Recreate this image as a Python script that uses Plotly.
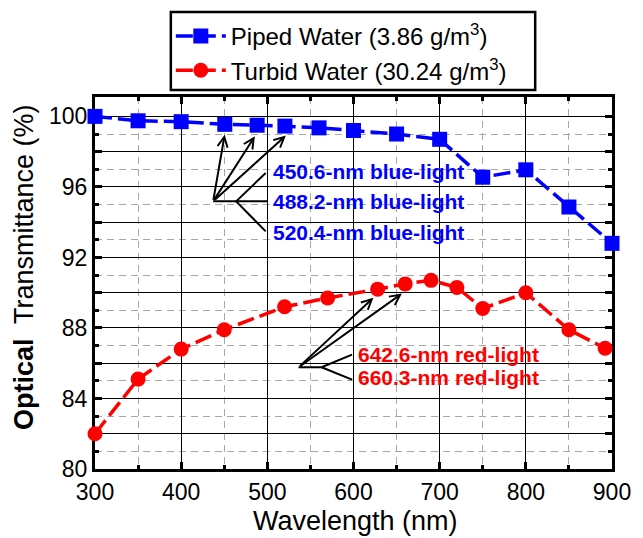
import plotly.graph_objects as go

# ---- data ----
piped_x = [300, 350, 400, 450.6, 488.2, 520.4, 560, 600, 650, 700, 750, 800, 850, 900]
piped_y = [100.0, 99.75, 99.7, 99.55, 99.5, 99.45, 99.35, 99.2, 99.0, 98.7, 96.55, 96.97, 94.86, 92.8]
turbid_x = [300, 350, 400, 450, 520, 570, 628, 660, 690, 720, 750, 800, 850, 892]
turbid_y = [82.0, 85.1, 86.8, 87.9, 89.2, 89.7, 90.2, 90.5, 90.7, 90.3, 89.1, 90.0, 87.9, 86.85]

x_tick_vals = [300, 400, 500, 600, 700, 800, 900]
x_tick_text = ["300", "400", "500", "600", "700", "800", "900"]
x_minor_vals = [350, 450, 550, 650, 750, 850]
y_tick_vals = [80, 82, 84, 86, 88, 90, 92, 94, 96, 98, 100]
y_tick_text = ["80", "", "84", "", "88", "", "92", "", "96", "", "100"]
y_minor_vals = [81, 83, 85, 87, 89, 91, 93, 95, 97, 99]

blue_labels = ["450.6-nm blue-light", "488.2-nm blue-light", "520.4-nm blue-light"]
red_labels = ["642.6-nm red-light", "660.3-nm red-light"]

FONT = "Liberation Sans, Arial, sans-serif"
BLUE = "#0000FF"
RED = "#FF0000"

# plot-area geometry (px)
L, R, T, B = 95, 23, 97, 69
W, H = 643, 538
PW, PH = W - L - R, H - T - B

def px_x(px):
    return (px - L) / PW

def px_y(py):
    return (H - B - py) / PH

fig = go.Figure()
fig.add_trace(go.Scatter(
    x=piped_x, y=piped_y, mode="lines+markers",
    name="Piped Water (3.86 g/m<sup>3</sup>)",
    line=dict(color=BLUE, width=3.5, dash="17px,6px"),
    marker=dict(symbol="square", size=15, color=BLUE),
    cliponaxis=False,
))
fig.add_trace(go.Scatter(
    x=turbid_x, y=turbid_y, mode="lines+markers",
    name="Turbid Water (30.24 g/m<sup>3</sup>)",
    line=dict(color=RED, width=3.5, dash="17px,6px"),
    marker=dict(symbol="circle", size=15, color=RED),
    cliponaxis=False,
))

# ---- annotation arrows & leader lines ----
blue_origin = (437.1, 95.18)
blue_tips = [(450.5, 98.96), (485.5, 98.87), (521.5, 98.91)]
red_origin = (536.2, 85.77)
red_tips = [(623.1, 89.71), (656.2, 89.95)]

annotations = []
for (tx, ty) in blue_tips:
    annotations.append(dict(x=tx, y=ty, ax=blue_origin[0], ay=blue_origin[1],
                            xref="x", yref="y", axref="x", ayref="y", text="",
                            showarrow=True, arrowhead=5, arrowsize=1.0, arrowwidth=2,
                            arrowcolor="black", standoff=0))
for (tx, ty) in red_tips:
    annotations.append(dict(x=tx, y=ty, ax=red_origin[0], ay=red_origin[1],
                            xref="x", yref="y", axref="x", ayref="y", text="",
                            showarrow=True, arrowhead=5, arrowsize=1.0, arrowwidth=2,
                            arrowcolor="black", standoff=0))

blue_text_y = [96.88, 95.18, 93.39]
for lab, ty in zip(blue_labels, blue_text_y):
    annotations.append(dict(x=503.8, y=ty, xref="x", yref="y", text="<b>" + lab + "</b>",
                            showarrow=False, xanchor="left", yanchor="middle",
                            font=dict(family=FONT, size=21, color=BLUE)))
red_text_y = [86.49, 85.17]
for lab, ty in zip(red_labels, red_text_y):
    annotations.append(dict(x=602.9, y=ty, xref="x", yref="y", text="<b>" + lab + "</b>",
                            showarrow=False, xanchor="left", yanchor="middle",
                            font=dict(family=FONT, size=21, color=RED)))

# axis titles as annotations
annotations.append(dict(x=px_x(360), y=px_y(521), xref="paper", yref="paper",
                        text="Wavelength (nm)", showarrow=False,
                        xanchor="center", yanchor="middle",
                        font=dict(family=FONT, size=27, color="black")))
annotations.append(dict(x=px_x(23), y=px_y(267), xref="paper", yref="paper",
                        text="<b>Optical</b>  Transmittance (%)", showarrow=False,
                        textangle=-90, xanchor="center", yanchor="middle",
                        font=dict(family=FONT, size=27, color="black")))

shapes = []
def seg(x0, y0, x1, y1):
    shapes.append(dict(type="line", xref="x", yref="y", x0=x0, y0=y0, x1=x1, y1=y1,
                       line=dict(color="black", width=2)))
seg(blue_origin[0], blue_origin[1], 500.0, blue_origin[1])
seg(463.8, blue_origin[1], 498.1, 96.79)
seg(463.8, blue_origin[1], 498.1, 93.48)
seg(red_origin[0], red_origin[1], 562.9, red_origin[1])
seg(562.9, red_origin[1], 598.3, 86.49)
seg(562.9, red_origin[1], 598.3, 85.07)

# legend frame
shapes.append(dict(type="rect", xref="paper", yref="paper",
                   x0=px_x(172), x1=px_x(542), y0=px_y(90), y1=px_y(12),
                   line=dict(color="black", width=2.5), fillcolor="white", layer="above"))

axis_common = dict(
    showline=True, linecolor="black", linewidth=3, mirror="allticks",
    ticks="inside", ticklen=7, tickwidth=3, tickcolor="black",
    showgrid=True, gridcolor="black", gridwidth=1.3,
    zeroline=False, layer="below traces",
    tickfont=dict(family=FONT, size=23, color="black"),
)

fig.update_layout(
    width=W, height=H,
    margin=dict(l=L, r=R, t=T, b=B),
    paper_bgcolor="white", plot_bgcolor="white",
    font=dict(family=FONT, color="black"),
    showlegend=True,
    legend=dict(x=px_x(172), y=px_y(14), xanchor="left", yanchor="top",
                bgcolor="rgba(0,0,0,0)", borderwidth=0,
                font=dict(family=FONT, size=24, color="black"),
                itemwidth=50, tracegroupgap=0),
    annotations=annotations,
    shapes=shapes,
)
fig.update_xaxes(
    range=[300, 900], tickmode="array", tickvals=x_tick_vals, ticktext=x_tick_text,
    minor=dict(tickmode="array", tickvals=x_minor_vals, ticks="inside", ticklen=4,
               tickwidth=3, tickcolor="black", showgrid=True, gridcolor="#a8a8a8",
               gridwidth=1.3, griddash="7px,5px"),
    **axis_common,
)
fig.update_yaxes(
    range=[80, 101.1], tickmode="array", tickvals=y_tick_vals, ticktext=y_tick_text,
    minor=dict(tickmode="array", tickvals=y_minor_vals, ticks="inside", ticklen=4,
               tickwidth=3, tickcolor="black", showgrid=True, gridcolor="#a8a8a8",
               gridwidth=1.3, griddash="7px,5px"),
    **axis_common,
)

fig.write_html("out.html",
               config={"displayModeBar": False},
               post_script="document.body.style.margin='0px';document.body.style.overflow='hidden';")
